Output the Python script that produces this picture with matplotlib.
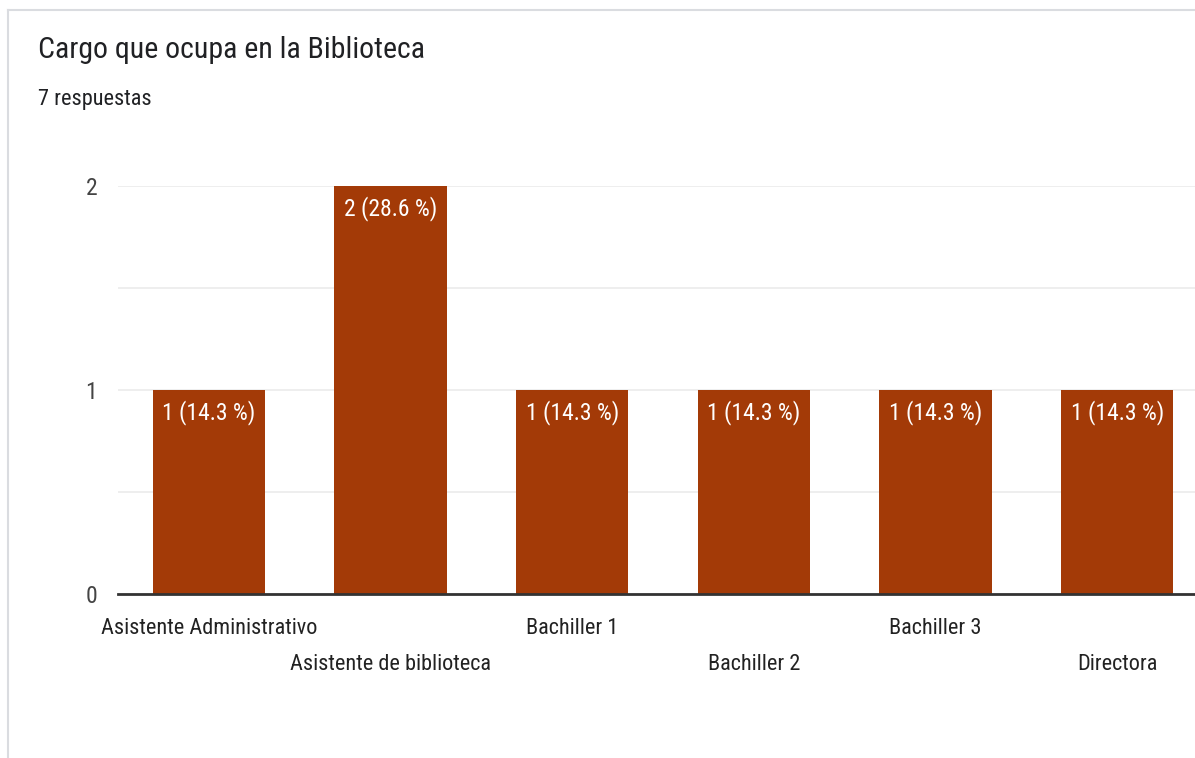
import matplotlib
matplotlib.use('Agg')
import matplotlib.pyplot as plt
from matplotlib import font_manager
from matplotlib.lines import Line2D

# data
categories = ['Asistente Administrativo', 'Asistente de biblioteca', 'Bachiller 1',
              'Bachiller 2', 'Bachiller 3', 'Directora']
counts = [1, 2, 1, 1, 1, 1]
total = 7
title = 'Cargo que ocupa en la Biblioteca'
subtitle = '7 respuestas'

# narrow face to mimic the squeezed screenshot
family = 'DejaVu Sans'
for cand in ['Roboto Condensed', 'Arimo', 'Roboto']:
    try:
        font_manager.findfont(cand, fallback_to_default=False)
        family = cand
        break
    except Exception:
        pass
plt.rcParams['font.family'] = [family, 'DejaVu Sans']

bar_color = '#a33a07'

fig = plt.figure(figsize=(11.95, 7.58), dpi=100)
ax = fig.add_axes([118/1195, 1-594/758, 1090/1195, 408/758])

x = list(range(len(categories)))
ax.bar(x, counts, width=0.617, color=bar_color, zorder=2)
ax.set_xlim(-0.5, len(categories)-0.5)
ax.set_ylim(0, 2)

for xi, c in zip(x, counts):
    ax.annotate('%d (%.1f %%)' % (c, 100.0*c/total), (xi, c), xytext=(0, -16),
                textcoords='offset points', ha='center', va='center',
                color='white', fontsize=17, zorder=3)

ax.set_yticks([0, 1, 2])
ax.set_yticks([0.5, 1.5], minor=True)
ax.tick_params(axis='y', which='both', length=0, pad=15, labelsize=17, labelcolor='#444444')
ax.grid(axis='y', which='both', color='#ebebeb', lw=1.2, zorder=0)

ax.set_xticks(x)
ax.set_xticklabels(categories, fontsize=16, color='#222222')
ax.tick_params(axis='x', length=0)
for i, t in enumerate(ax.xaxis.get_major_ticks()):
    t.set_pad(17 if i % 2 == 0 else 43)

for s in ['top', 'right', 'left']:
    ax.spines[s].set_visible(False)
ax.spines['bottom'].set_color('#333333')
ax.spines['bottom'].set_linewidth(2)
ax.spines['bottom'].set_zorder(4)

# card border
fig.add_artist(Line2D([8/1195, 8/1195], [0, 1-10/758], color='#dadce0', lw=1.5))
fig.add_artist(Line2D([8/1195, 1], [1-10/758, 1-10/758], color='#dadce0', lw=1.5))

fig.text(38/1195, 1-50/758, title, fontsize=21.5, color='#202124', va='center', ha='left')
fig.text(38/1195, 1-100/758, subtitle, fontsize=16, color='#202124', va='center', ha='left')

fig.savefig('out.png', dpi=100)
